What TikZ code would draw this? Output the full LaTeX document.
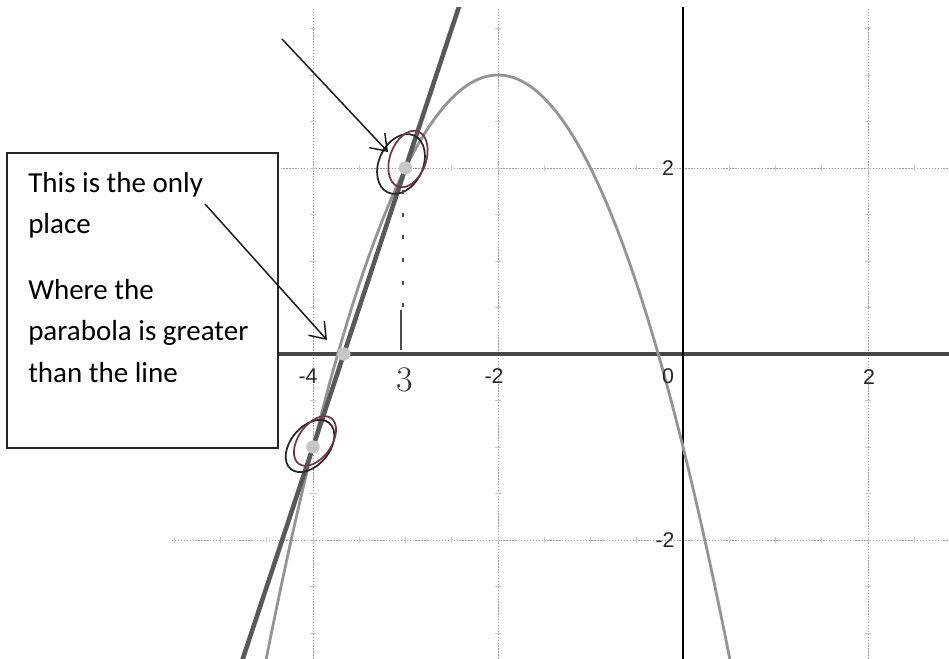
\documentclass[tikz,border=0pt]{standalone}
\usepackage{fontspec}
\setmainfont{Carlito}
\newfontfamily\ticksfont{Liberation Sans}
\newfontfamily\handfont{Latin Modern Roman}
\usetikzlibrary{arrows.meta}
\definecolor{maroonink}{RGB}{115,55,70}
\begin{document}
\begin{tikzpicture}[x=0.75pt,y=-0.75pt,
  gridline/.style={draw=black!40, line width=0.6pt, dash pattern=on 1pt off 1.2pt},
  tickmark/.style={draw=black!22, line width=0.5pt},
  xaxisline/.style={draw=black!72, line width=2.3pt},
  yaxisline/.style={draw=black, line width=2pt},
  curveP/.style={draw=black!42, line width=2.1pt},
  lineL/.style={draw=black!65, line width=3.4pt},
  ptdot/.style={fill=black!22},
  ringA/.style={draw=black!85, line width=1.3pt},
  ringB/.style={draw=maroonink, line width=1.3pt},
  tlabel/.style={font=\ticksfont\fontsize{16}{16}\selectfont, text=black!85, inner sep=0},
  boxtext/.style={anchor=base west, inner sep=0, font=\fontsize{21.75}{26}\selectfont},
  notebox/.style={draw=black!85, line width=1.4pt, fill=white, inner sep=0,
    minimum width=203.25pt, minimum height=221.25pt},
  pointer/.style={draw=black!90, line width=1.1pt, -{Straight Barb[length=11pt,width=16pt]}},
  helper/.style={draw=black!70, line width=0.9pt}
]
\fill[white] (0,0) rectangle (949,658);
\path[use as bounding box] (0,0) rectangle (949,658);

\begin{scope}
\clip (170,7) rectangle (949,658);
\begin{scope}[shift={(683,354)}, x=69.375pt, y=69.75pt]
  % grid
  \foreach \gx in {-4,-2,2} \draw[gridline] (\gx,-4) -- (\gx,4.2);
  \foreach \gy in {-2,2} \draw[gridline] (-6,\gy) -- (3.2,\gy);
  \foreach \gy in {-2,2} \foreach \t in {-5.5,-5,...,3}
    \draw[tickmark] (\t,\gy-0.03) -- (\t,\gy+0.03);
  \foreach \gx in {-4,-2,2} \foreach \t in {-3.5,-3,...,4}
    \draw[tickmark] (\gx-0.03,\t) -- (\gx+0.03,\t);
  % axes
  \draw[xaxisline] (-6,0) -- (3.2,0);
  \draw[yaxisline] (0,-4) -- (0,4.2);
  % parabola and line
  \draw[curveP, domain=-4.6:0.6, samples=140, smooth]
    plot (\x,{3-(\x+2)*(\x+2)});
  \draw[lineL] (-4.8,-3.4) -- (-2.4,3.8);
  \coordinate (P1) at (-3,2);
  \coordinate (P2) at (-4,-1);
  \coordinate (P0) at (-11/3,0);
\end{scope}
\end{scope}

% intersection dots
\fill[ptdot] (P1) circle (5pt);
\fill[ptdot] (P2) circle (5pt);
\fill[ptdot] (P0) circle (5pt);

% hand-drawn rings
\draw[ringA, rotate around={-25:(401,164)}] (401,164) ellipse [x radius=16.5pt, y radius=23.5pt];
\draw[ringB, rotate around={-20:(408,159)}] (408,159) ellipse [x radius=13.5pt, y radius=22pt];
\draw[ringA, rotate around={-40:(310,446)}] (310,446) ellipse [x radius=14.5pt, y radius=22.5pt];
\draw[ringB, rotate around={-35:(315,441)}] (315,441) ellipse [x radius=12.5pt, y radius=21pt];

% dashed helper line to x = -3
\coordinate (dtop) at (403,190);
\coordinate (dmid) at (403,312);
\coordinate (stop) at (401,310);
\coordinate (sbot) at (401,350);
\draw[helper, dash pattern=on 3pt off 14pt] (dtop) -- (dmid);
\draw[helper] (stop) -- (sbot);

% tick labels
\node[tlabel] (lxm4) at (308,376) {-4};
\node[tlabel] (lxm2) at (494,376) {-2};
\node[tlabel] (lx0) at (668,376) {0};
\node[tlabel] (lx2) at (869,377) {2};
\node[tlabel] (ly2) at (668,168) {2};
\node[tlabel] (lym2) at (665,540) {-2};
\node[inner sep=0, font=\handfont\fontsize{27}{27}\selectfont, text=black!80] (hand3) at (405,380) {3};

% note box
\node[notebox] (box) at (142.5,300.5) {};
\node[boxtext] (t1) at (28,192) {This is the only};
\node[boxtext] (t2) at (28,233) {place};
\node[boxtext] (t3) at (28,299) {Where the};
\node[boxtext] (t4) at (28,340) {parabola is greater};
\node[boxtext] (t5) at (28,382) {than the line};

% arrows
\coordinate (a1s) at (282,39);
\coordinate (a1e) at (388,152);
\coordinate (a2s) at (205,204);
\coordinate (a2e) at (327,340);
\draw[pointer] (a1s) -- (a1e);
\draw[pointer] (a2s) -- (a2e);
\end{tikzpicture}
\end{document}
